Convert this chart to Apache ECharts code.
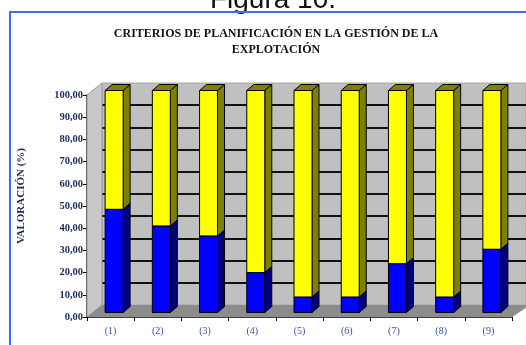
<!DOCTYPE html>
<html>
<head>
<meta charset="utf-8">
<script src="https://cdn.jsdelivr.net/npm/echarts@6/dist/echarts.min.js"></script>
<style>
  html, body { margin: 0; padding: 0; background: #fff; }
  #main { width: 526px; height: 345px; }
</style>
</head>
<body>
<div id="main"></div>
<script>
// valores (%)
const categorias = ["(1)", "(2)", "(3)", "(4)", "(5)", "(6)", "(7)", "(8)", "(9)"];
const azul = [46.5, 39, 34.5, 18, 7, 7, 22, 7, 28.5];
const amarillo = [53.5, 61, 65.5, 82, 93, 93, 78, 93, 71.5];
const ticksY = [0, 10, 20, 30, 40, 50, 60, 70, 80, 90, 100];

// caja 3D de cada tramo de barra
const cubo = (frente, lado) => function (params, api) {
    const i = api.value(0);
    const p0 = api.coord([i, api.value(1)]);
    const p1 = api.coord([i, api.value(2)]);
    const w = 18, dx = 7, dy = -6;
    const x0 = p0[0] + 3.5 - w / 2, x1 = x0 + w;
    const yb = p0[1] - 4.5, yt = p1[1] - 4.5;
    const borde = { stroke: "#000", lineWidth: 1 };
    return {
        type: "group",
        children: [
            { type: "polygon", shape: { points: [[x1, yb], [x1 + dx, yb + dy], [x1 + dx, yt + dy], [x1, yt]] },
              style: Object.assign({ fill: lado }, borde) },
            { type: "polygon", shape: { points: [[x0, yt], [x0 + dx, yt + dy], [x1 + dx, yt + dy], [x1, yt]] },
              style: Object.assign({ fill: lado }, borde) },
            { type: "rect", shape: { x: x0, y: yt, width: w, height: yb - yt },
              style: Object.assign({ fill: frente }, borde) }
        ]
    };
};

let datosAzul = [], datosAmarillo = [];
for (let i = 0; i < categorias.length; i++) {
    datosAzul.push([i, 0, azul[i]]);
    datosAmarillo.push([i, azul[i], azul[i] + amarillo[i]]);
}

const txt = "#1f2a5c";
var myChart = echarts.init(document.getElementById("main"));
var option = {
    backgroundColor: "#fff",
    animation: false,
    title: {
        text: "CRITERIOS DE PLANIFICACIÓN EN LA GESTIÓN DE LA\nEXPLOTACIÓN",
        left: 271, top: 21, textAlign: "center",
        textStyle: { fontFamily: "Liberation Serif", fontWeight: "bold", fontSize: 12, lineHeight: 16, color: "#111" }
    },
    graphic: [
        { type: "text", z: 10, style: { text: "Figura 10.", x: 273, y: 14, textAlign: "center", textVerticalAlign: "bottom",
            font: "28px 'Liberation Sans'", fill: "#111" } },
        { type: "polyline", z: 10, shape: { points: [[10, 345], [10, 12], [526, 12]] },
            style: { stroke: "#3d6cf5", lineWidth: 2, fill: null } },
        // pared lateral y suelo
        { type: "polygon", z: 1, shape: { points: [[87, 95], [102, 83], [102, 305], [87, 317]] },
            style: { fill: "#c8c8c8", stroke: "#999", lineWidth: 1 } },
        { type: "polygon", z: 1, shape: { points: [[87, 317], [102, 305], [530, 305], [512, 317]] },
            style: { fill: "#8c8c8c" } },
        { type: "text", z: 10, x: 21, y: 196, rotation: Math.PI / 2,
          style: { text: "VALORACIÓN (%)", x: 0, y: 0, textAlign: "center", textVerticalAlign: "middle",
            font: "bold 11px 'Liberation Serif'", fill: txt } }
    ],
    grid: [
        { left: 87, top: 95, width: 425, height: 222 },
        { left: 102, top: 83, width: 430, height: 222, show: true, backgroundColor: "#c0c0c0", borderColor: "#a8a8a8", borderWidth: 1 }
    ],
    xAxis: [
        { type: "category", gridIndex: 0, data: categorias, boundaryGap: true,
          axisLine: { lineStyle: { color: "#000", width: 1.5 } },
          axisTick: { show: true, length: 4, lineStyle: { color: "#000" } },
          axisLabel: { margin: 9, fontFamily: "Liberation Serif", fontSize: 10, color: "#3a4fa8" } },
        { type: "category", gridIndex: 1, data: categorias, show: false }
    ],
    yAxis: [
        { type: "value", gridIndex: 0, min: ticksY[0], max: ticksY[ticksY.length - 1], interval: 10,
          axisLine: { show: true, lineStyle: { color: "#000", width: 1.5 } },
          axisTick: { show: true, length: 4, lineStyle: { color: "#000" } },
          splitLine: { show: false },
          axisLabel: { margin: 4, fontFamily: "Liberation Serif", fontWeight: "bold", fontSize: 10.5, color: txt,
              formatter: (v) => v.toFixed(2).replace(".", ",") } },
        { type: "value", gridIndex: 1, min: 0, max: 100, interval: 10,
          axisLine: { show: false }, axisTick: { show: false }, axisLabel: { show: false },
          splitLine: { show: true, showMaxLine: false, showMinLine: false, lineStyle: { color: "#111", width: 2 } } }
    ],
    series: [
        { type: "custom", name: "azul", xAxisIndex: 0, yAxisIndex: 0, z: 3,
          renderItem: cubo("#0000ff", "#000080"), data: datosAzul },
        { type: "custom", name: "amarillo", xAxisIndex: 0, yAxisIndex: 0, z: 3,
          renderItem: cubo("#ffff00", "#808000"), data: datosAmarillo }
    ]
};
myChart.setOption(option);
</script>
</body>
</html>
